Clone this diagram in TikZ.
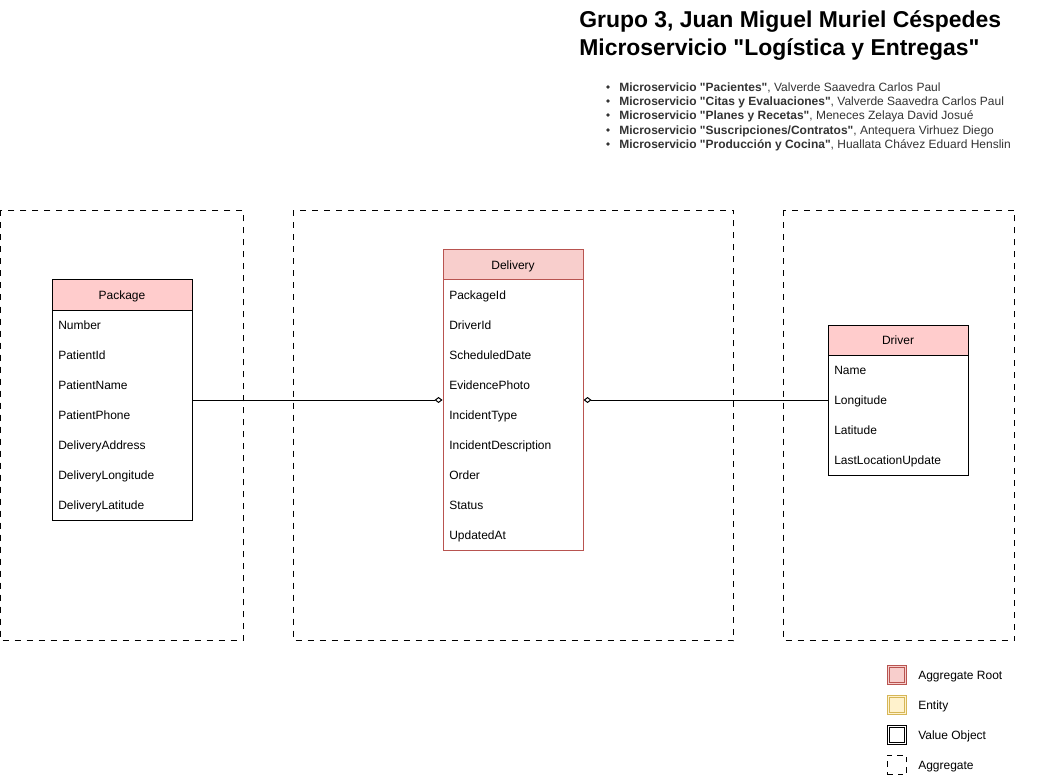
\documentclass[tikz,border=0pt]{standalone}
\usepackage{fontspec}
\setmainfont{Liberation Sans}
\newfontfamily\plainf{Liberation Sans}
\usetikzlibrary{arrows.meta}
\definecolor{rootfill}{HTML}{F8CECC}
\definecolor{rootdraw}{HTML}{B85450}
\definecolor{hdrfill}{HTML}{FFCCCC}
\definecolor{entfill}{HTML}{FFF2CC}
\definecolor{entdraw}{HTML}{D6B656}
\definecolor{txtgray}{HTML}{333333}
\tikzset{
  agg/.style={draw=black, line width=0.75pt, dash pattern=on 4.5pt off 4.5pt},
  entbox/.style={draw=black, fill=white, line width=0.75pt, minimum width=105pt, inner sep=0pt},
  hdrbox/.style={draw=black, fill=hdrfill, line width=0.75pt, minimum width=105pt, minimum height=22.5pt, inner sep=0pt, text height=6.5pt, text depth=0pt, font=\plainf\fontsize{9}{11}\selectfont},
  rowtxt/.style={anchor=west, inner sep=0pt, text height=6.5pt, text depth=0pt, font=\plainf\fontsize{9}{11}\selectfont},
  conn/.style={line width=0.75pt},
  ttl/.style={anchor=west, inner sep=0pt, font=\plainf\fontsize{17.2}{20}\selectfont\bfseries},
  bul/.style={anchor=west, inner sep=0pt, text=txtgray, text height=6.5pt, text depth=0pt, font=\plainf\fontsize{9}{11}\selectfont},
  leg/.style={anchor=west, inner sep=0pt, text height=6.5pt, text depth=0pt, font=\plainf\fontsize{9}{11}\selectfont},
  legsq/.style={minimum width=14.5pt, minimum height=14.5pt, inner sep=0pt, line width=0.75pt},
  legin/.style={minimum width=11pt, minimum height=11pt, inner sep=0pt, line width=0.75pt},
}
\begin{document}
\begin{tikzpicture}[x=0.75pt, y=-0.75pt]
\useasboundingbox (0,0) rectangle (1048,780);
% title
\node[ttl] (t1) at (579,22) {Grupo 3, Juan Miguel Muriel Céspedes};
\node[ttl] (t2) at (579,50) {Microservicio "Logística y Entregas"};
% bullets
\foreach \y/\b/\r [count=\i] in {87/Pacientes/{Valverde Saavedra Carlos Paul},101/Citas y Evaluaciones/{Valverde Saavedra Carlos Paul},115/Planes y Recetas/{Meneces Zelaya David Josué},130/Suscripciones\slash Contratos/{Antequera Virhuez Diego},144/Producción y Cocina/{Huallata Chávez Eduard Henslin}}{
  \fill[txtgray] (608,\y) circle (1.4pt);
  \node[bul] (b\i) at (619,\y) {\textbf{Microservicio "\b"}, \r};
}
% aggregates
\draw[agg] (0.7,210.5) rectangle (243.5,640.5);
\draw[agg] (293.5,210.5) rectangle (733.5,640.5);
\draw[agg] (783.5,210.5) rectangle (1014.5,640.5);
% Package
\node[entbox, minimum height=180pt] (pkg) at (122,400) {};
\node[hdrbox] (pkgh) at (122,295) {Package};
\foreach \t [count=\i] in {Number,PatientId,PatientName,PatientPhone,DeliveryAddress,DeliveryLongitude,DeliveryLatitude}{
  \node[rowtxt] (pkg\i) at (58,295+30*\i) {\t};
}
% Delivery
\node[entbox, draw=rootdraw, minimum height=225pt] (del) at (513,400) {};
\node[hdrbox, draw=rootdraw, fill=rootfill] (delh) at (513,265) {Delivery};
\foreach \t [count=\i] in {PackageId,DriverId,ScheduledDate,EvidencePhoto,IncidentType,IncidentDescription,Order,Status,UpdatedAt}{
  \node[rowtxt] (del\i) at (449,265+30*\i) {\t};
}
% Driver
\node[entbox, minimum height=112.5pt] (drv) at (898,400) {};
\node[hdrbox] (drvh) at (898,340) {Driver};
\foreach \t [count=\i] in {Name,Longitude,Latitude,LastLocationUpdate}{
  \node[rowtxt] (drv\i) at (834,340+30*\i) {\t};
}
% connectors
\draw[conn, -{Diamond[open, length=6pt, width=4.5pt, line width=0.75pt]}] (pkg.east) -- (del.west);
\draw[conn, {Diamond[open, length=6pt, width=4.5pt, line width=0.75pt]}-] (del.east) -- (drv.west);
% legend
\node[legsq, draw=rootdraw, fill=rootfill] (l1) at (897,675) {};
\node[legin, draw=rootdraw] at (l1.center) {};
\node[leg] (l1t) at (918,675) {Aggregate Root};
\node[legsq, draw=entdraw, fill=entfill] (l2) at (897,705) {};
\node[legin, draw=entdraw] at (l2.center) {};
\node[leg] (l2t) at (918,705) {Entity};
\node[legsq, draw=black, fill=white] (l3) at (897,735) {};
\node[legin, draw=black] at (l3.center) {};
\node[leg] (l3t) at (918,735) {Value Object};
\node[legsq, agg, dash pattern=on 4pt off 4pt] (l4) at (897,765) {};
\node[leg] (l4t) at (918,765) {Aggregate};
\end{tikzpicture}
\end{document}
